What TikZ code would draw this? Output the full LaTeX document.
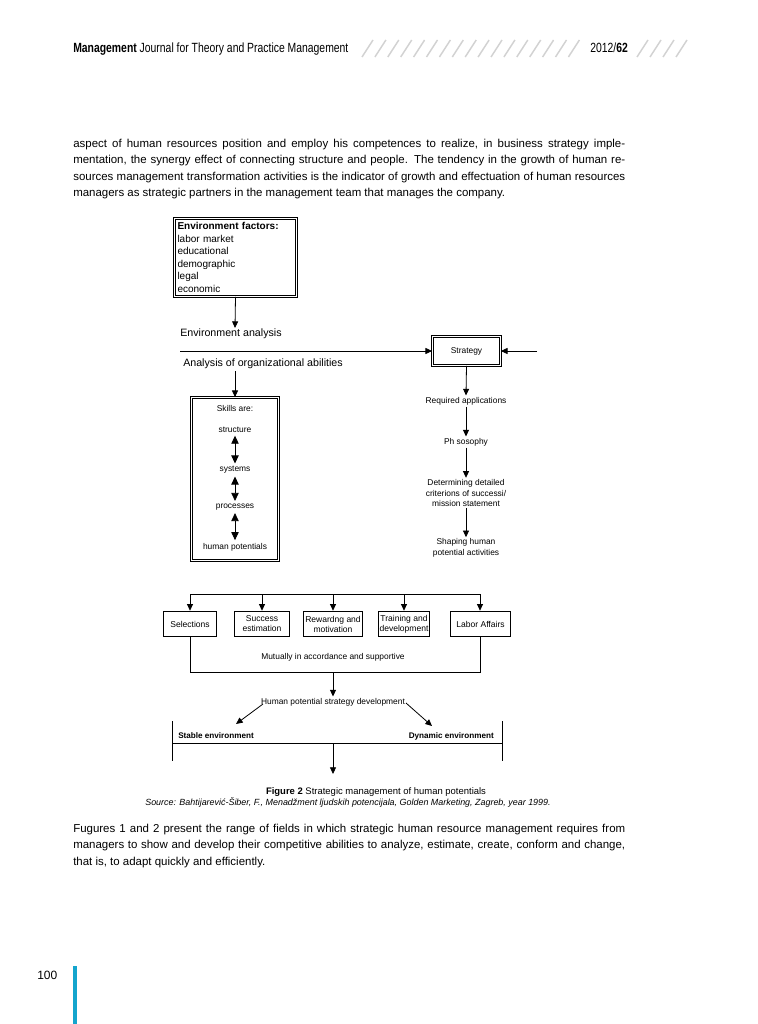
\documentclass[tikz,border=0pt]{standalone}
\usepackage{fontspec}
\setmainfont{Liberation Sans}
\newfontfamily\condfont[FakeStretch=0.78]{Liberation Sans}
\usetikzlibrary{arrows.meta}
\definecolor{barcyan}{RGB}{20,165,205}
\definecolor{slashgray}{RGB}{210,210,210}
\begin{document}
\begin{tikzpicture}[x=0.75pt,y=-0.75pt,
  arr/.style={-{Triangle[length=5pt,width=4.5pt]}, line width=0.6pt},
  darr/.style={{Triangle[length=6pt,width=5.5pt]}-{Triangle[length=6pt,width=5.5pt]}, line width=0.6pt, shorten <=1pt, shorten >=1pt},
  ln/.style={line width=0.6pt},
  dbox/.style={draw, double, double distance=1.3pt, line width=0.55pt},
  tbox/.style={draw, line width=1.2pt, align=center, font=\fontsize{6.4}{7.5}\selectfont, inner sep=0.8pt, minimum height=18.75pt},
  small/.style={font=\fontsize{6.3}{7.9}\selectfont, align=center, inner sep=1pt},
  lab/.style={font=\fontsize{8}{9.6}\selectfont, inner sep=0pt},
  bl/.style={font=\fontsize{6.1}{7.2}\selectfont\bfseries, inner sep=0pt},
  para/.style={text width=414pt, align=justify, font=\fontsize{8.6}{12.2}\selectfont, inner sep=0pt, anchor=north west},
  slash/.style={slashgray, line width=1.1pt}
]
\useasboundingbox (0,0) rectangle (757,1024);
\fill[white] (0,0) rectangle (757,1024);

% header
\node[anchor=base west, inner sep=0pt, font=\condfont\fontsize{10}{12}\selectfont] (hdr) at (73,53) {\textbf{Management} Journal for Theory and Practice Management};
\foreach \i in {0,...,16} \draw[slash] (362+\i*12.9,57) -- ++(11,-17);
\node[anchor=base west, inner sep=0pt, font=\condfont\fontsize{10}{12}\selectfont] (yr) at (590,53) {2012/\textbf{62}};
\foreach \i in {0,...,3} \draw[slash] (637+\i*13,57) -- ++(11,-17);

% top paragraph
\node[para] (p1) at (73,139) {aspect of human resources position and employ his competences to realize, in business strategy imple-\linebreak mentation, the synergy effect of connecting structure and people. The tendency in the growth of human re-\linebreak sources management transformation activities is the indicator of growth and effectuation of human resources\linebreak managers as strategic partners in the management team that manages the company.};

% environment factors
\node[dbox, minimum width=91.5pt, minimum height=58.5pt, text width=87pt, align=left, inner sep=2pt,
  font=\fontsize{7.5}{9.4}\selectfont] (env) at (235.5,257.5)
  {\textbf{Environment factors:}\\labor market\\educational\\demographic\\legal\\economic};
\coordinate (envarr) at (235,328);
\draw[arr] (env.south) -- (envarr);
\node[lab, anchor=west] (envlab) at (180,334) {Environment analysis};
\coordinate (hl) at (180,351);
\node[dbox, minimum width=51pt, minimum height=21.75pt, font=\fontsize{6.3}{7.5}\selectfont] (strat) at (466.5,351) {Strategy};
\draw[arr] (hl) -- (strat.west);
\coordinate (sr) at (537,351);
\draw[arr] (sr) -- (strat.east);
\node[lab, anchor=west] (orglab) at (183,364) {Analysis of organizational abilities};
\coordinate (skarr) at (235,371);

% skills box
\node[dbox, minimum width=65.25pt, minimum height=122.25pt] (skills) at (235,479) {};
\draw[arr] (skarr) -- (skills.north);
\node[small] (sk0) at (235,408) {Skills are:};
\node[small] (sk1) at (235,430) {structure};
\node[small] (sk2) at (235,470) {systems};
\node[small] (sk3) at (235,507) {processes};
\node[small] (sk4) at (235,547) {human potentials};
\draw[darr] (sk1) -- (sk2);
\draw[darr] (sk2) -- (sk3);
\draw[darr] (sk3) -- (sk4);

% right column
\node[small] (req) at (466,401) {Required applications};
\draw[arr] (strat.south) -- (req.north);
\node[small] (phil) at (466,442) {Ph sosophy};
\draw[arr] (req.south) -- (phil.north);
\node[small] (det) at (466,493) {Determining detailed\\criterions of successi/\\mission statement};
\draw[arr] (phil.south) -- (det.north);
\node[small] (shp) at (466,548) {Shaping human\\potential activities};
\draw[arr] (det.south) -- (shp.north);

% row of boxes
\coordinate (t1) at (190,594);
\coordinate (t2) at (262,594);
\coordinate (t3) at (333,594);
\coordinate (t4) at (404,594);
\coordinate (t5) at (480,594);
\node[tbox, minimum width=39.75pt] (sel) at (190,624) {Selections};
\node[tbox, minimum width=41.25pt] (succ) at (262,624) {Success\\estimation};
\node[tbox, minimum width=44.25pt] (rew) at (333,624) {Rewardng and\\motivation};
\node[tbox, minimum width=38.25pt] (trn) at (404,624) {Training and\\development};
\node[tbox, minimum width=45pt] (lab) at (480.5,624) {Labor Affairs};
\draw[ln] (t1) -- (t5);
\draw[arr] (t1) -- (sel.north);
\draw[arr] (t2) -- (succ.north);
\draw[arr] (t3) -- (rew.north);
\draw[arr] (t4) -- (trn.north);
\draw[arr] (t5) -- (lab.north-|t5);
\coordinate (b1) at (190,672);
\coordinate (b5) at (480,672);
\coordinate (bm) at (333,672);
\draw[ln] (sel.south) -- (b1) -- (b5) -- (lab.south-|b5);
\node[small] (mut) at (333,657) {Mutually in accordance and supportive};
\node[small] (hp) at (333,702) {Human potential strategy development};
\draw[arr] (bm) -- (hp.north);
\coordinate (d1s) at (263,704);
\coordinate (d1e) at (236,724);
\coordinate (d2s) at (406,703);
\coordinate (d2e) at (432,726);
\draw[arr] (d1s) -- (d1e);
\draw[arr] (d2s) -- (d2e);

% environment bar
\coordinate (bl1) at (172,721);
\coordinate (bl2) at (172,761);
\coordinate (br1) at (502,721);
\coordinate (br2) at (502,761);
\coordinate (hm1) at (172,743);
\coordinate (hm2) at (502,743);
\coordinate (mid) at (333,743);
\coordinate (midend) at (333,774);
\draw[ln] (bl1) -- (bl2);
\draw[ln] (br1) -- (br2);
\draw[ln] (hm1) -- (hm2);
\draw[arr] (mid) -- (midend);
\node[bl, anchor=west] (stable) at (178,736) {Stable environment};
\node[bl, anchor=east] (dyn) at (494,736) {Dynamic environment};

% caption
\node[inner sep=0pt, font=\fontsize{7.1}{8.5}\selectfont] (cap) at (376,792) {\textbf{Figure 2} Strategic management of human potentials};
\node[inner sep=0pt, font=\fontsize{6.7}{8}\selectfont\itshape] (src) at (348,803) {Source: Bahtijarević-Šiber, F., Menadžment ljudskih potencijala, Golden Marketing, Zagreb, year 1999.};

% bottom paragraph
\node[para] (p2) at (73,824) {Fugures 1 and 2 present the range of fields in which strategic human resource management requires from\linebreak managers to show and develop their competitive abilities to analyze, estimate, create, conform and change,\linebreak that is, to adapt quickly and efficiently.};

% page number
\node[anchor=base west, inner sep=0pt, font=\fontsize{9}{10.8}\selectfont] (pg) at (37,979) {100};
\fill[barcyan] (73,966) rectangle (77,1024);
\end{tikzpicture}
\end{document}
